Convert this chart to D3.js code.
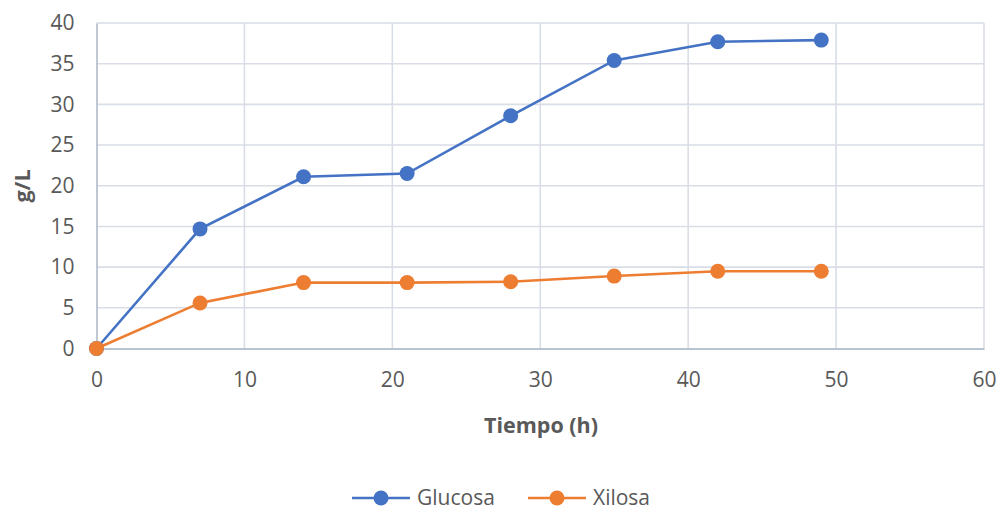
<!DOCTYPE html>
<html>
<head>
<meta charset="utf-8">
<script src="https://cdn.jsdelivr.net/npm/d3@7"></script>
<style>
  html, body { margin: 0; padding: 0; background: #fff; }
  svg { display: block; font-family: "Open Sans", "Noto Sans", sans-serif; }
</style>
</head>
<body>
<svg id="chart" width="1003" height="512"></svg>
<script>
// Time points (h) and concentrations (g/L)
const tiempo = [0, 7, 14, 21, 28, 35, 42, 49];
const glucosa = [0, 14.7, 21.1, 21.5, 28.6, 35.4, 37.7, 37.9];
const xilosa = [0, 5.6, 8.1, 8.1, 8.2, 8.9, 9.5, 9.5];
const xTicks = [0, 10, 20, 30, 40, 50, 60];
const yTicks = [0, 5, 10, 15, 20, 25, 30, 35, 40];
const seriesNames = ["Glucosa", "Xilosa"];
const seriesColors = ["#4472C4", "#ED7D31"];

const svg = d3.select("#chart");
const x = d3.scaleLinear().domain([0, 60]).range([96.5, 984]);
const y = d3.scaleLinear().domain([0, 40]).range([348.5, 23]);

// gridlines
const grid = svg.append("g").attr("stroke", "#D9DEE6").attr("stroke-width", 1.6);
grid.selectAll(".gx").data(xTicks.filter(d => d > 0)).enter().append("line")
  .attr("x1", d => x(d)).attr("x2", d => x(d)).attr("y1", y(40)).attr("y2", y(0));
grid.selectAll(".gy").data(yTicks.filter(d => d > 0)).enter().append("line")
  .attr("x1", x(0)).attr("x2", x(60)).attr("y1", d => y(d)).attr("y2", d => y(d));

// axes
const xAxis = svg.append("g").attr("transform", `translate(0,${y(0)})`)
  .call(d3.axisBottom(x).tickValues(xTicks).tickSize(0).tickPadding(24));
const yAxis = svg.append("g").attr("transform", `translate(${x(0)},0)`)
  .call(d3.axisLeft(y).tickValues(yTicks).tickSize(0).tickPadding(22));
[xAxis, yAxis].forEach(a => {
  a.select(".domain").attr("stroke", "#B8C2D0").attr("stroke-width", 1.8);
  a.selectAll("text").attr("fill", "#595959").style("font-size", "21px")
    .style("font-family", "'Open Sans', sans-serif");
});

// axis titles
svg.append("text").attr("x", 541).attr("y", 433).attr("text-anchor", "middle")
  .attr("fill", "#595959").style("font-size", "21.5px").style("font-weight", "bold")
  .text("Tiempo (h)");
svg.append("text").attr("transform", "translate(30,186) rotate(-90)")
  .attr("text-anchor", "middle").attr("fill", "#595959")
  .style("font-size", "21.5px").style("font-weight", "bold").text("g/L");

// series
const series = [glucosa, xilosa];
series.forEach((vals, i) => {
  const pts = tiempo.map((t, j) => [t, vals[j]]);
  const line = d3.line().x(d => x(d[0])).y(d => y(d[1]));
  svg.append("path").datum(pts).attr("d", line).attr("fill", "none")
    .attr("stroke", seriesColors[i]).attr("stroke-width", 2.6);
  svg.append("g").selectAll("circle").data(pts).enter().append("circle")
    .attr("cx", d => x(d[0])).attr("cy", d => y(d[1])).attr("r", 7.5)
    .attr("fill", seriesColors[i]);
});

// legend
const legendX = [352, 528];
seriesNames.forEach((name, i) => {
  const g = svg.append("g").attr("transform", `translate(${legendX[i]},498)`);
  g.append("line").attr("x1", 0).attr("x2", 58).attr("stroke", seriesColors[i]).attr("stroke-width", 2.6);
  g.append("circle").attr("cx", 29).attr("r", 7.5).attr("fill", seriesColors[i]);
  g.append("text").attr("x", 65).attr("dy", "0.35em").attr("fill", "#595959")
    .style("font-size", "21px").text(name);
});
</script>
</body>
</html>
